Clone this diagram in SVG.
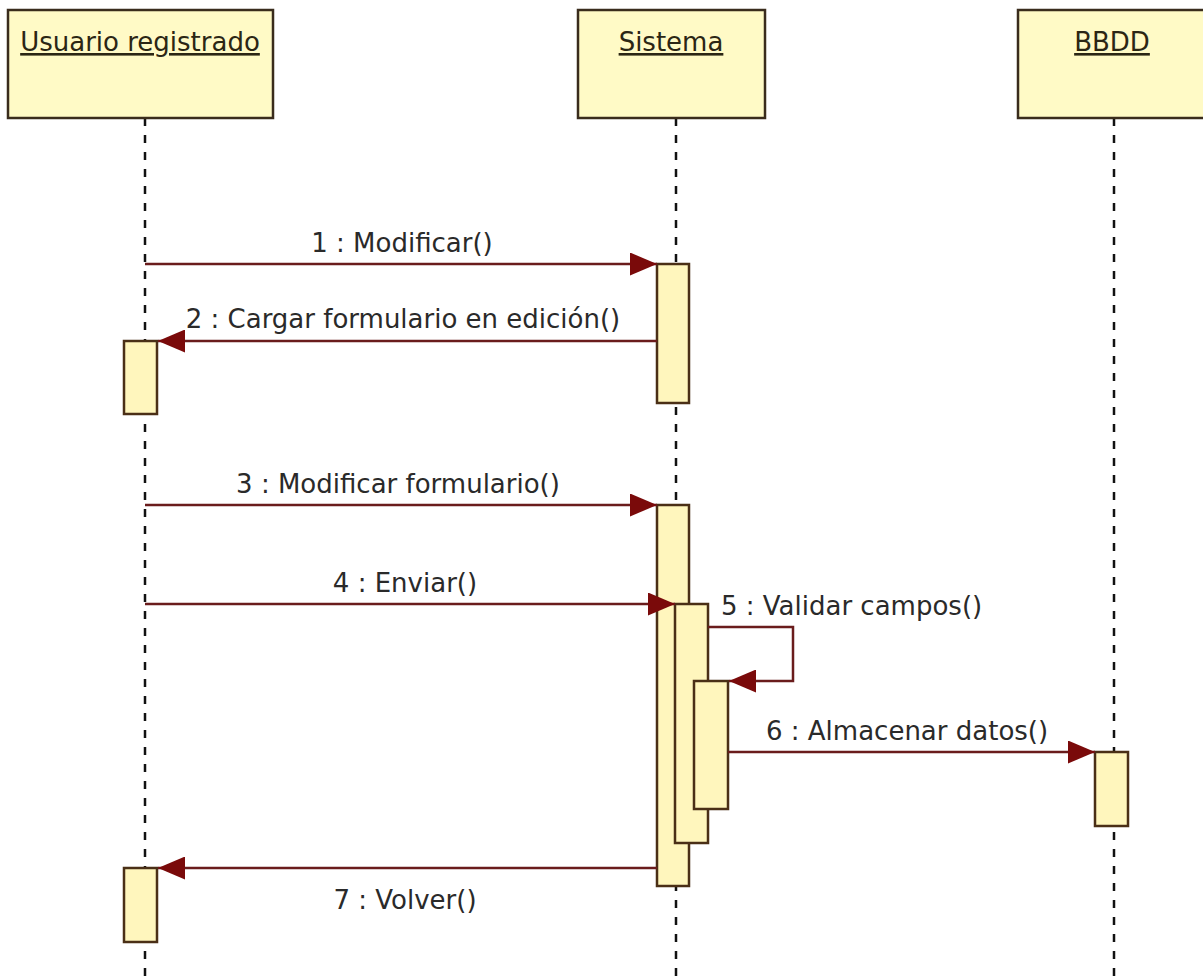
<svg xmlns="http://www.w3.org/2000/svg" width="1203" height="979" viewBox="0 0 1203 979">
<style>
.head{fill:#fffac6;stroke:#3a2c1c;stroke-width:2.5}
.act{fill:#fff6bd;stroke:#4a2f16;stroke-width:2.5}
.life{stroke:#111;stroke-width:2.5;stroke-dasharray:8 9;fill:none}
.msg{stroke:#6a1c1c;stroke-width:2.5;fill:none}
.t{font-family:"DejaVu Sans","Liberation Sans",sans-serif;font-size:26px;fill:#2a2a2a}
.ht{font-family:"DejaVu Sans","Liberation Sans",sans-serif;font-size:26px;fill:#2b2614;text-decoration:underline}
</style>
<defs>
<marker id="arr" viewBox="0 0 27 23" refX="27" refY="11.5" markerWidth="27" markerHeight="23" markerUnits="userSpaceOnUse" orient="auto">
<path d="M0,0 L27,11.5 L0,23 Z" fill="#7a0a0a"/>
</marker>
</defs>
<rect width="1203" height="979" fill="#ffffff"/>
<g id="lifelines">
<line class="life" x1="145" y1="118" x2="145" y2="979"/>
<line class="life" x1="676" y1="118" x2="676" y2="979"/>
<line class="life" x1="1114" y1="118" x2="1114" y2="979"/>
</g>
<g id="usuario">
<rect class="head" x="8" y="10" width="265" height="108"/>
<text class="ht" x="140" y="51" text-anchor="middle">Usuario registrado</text>
<rect class="act" x="124" y="341" width="33" height="73"/>
<rect class="act" x="124" y="868" width="33" height="74"/>
</g>
<g id="sistema">
<rect class="head" x="578" y="10" width="187" height="108"/>
<text class="ht" x="671" y="51" text-anchor="middle">Sistema</text>
<rect class="act" x="657" y="264" width="32" height="139"/>
<rect class="act" x="657" y="505" width="32" height="381"/>
<rect class="act" x="675" y="604" width="33" height="239"/>
<rect class="act" x="694" y="681" width="34" height="128"/>
</g>
<g id="bbdd">
<rect class="head" x="1018" y="10" width="196" height="108"/>
<text class="ht" x="1112" y="51" text-anchor="middle">BBDD</text>
<rect class="act" x="1095" y="752" width="33" height="74"/>
</g>
<g id="connectors">
<line class="msg" x1="145" y1="264" x2="657" y2="264" marker-end="url(#arr)"/>
<text class="t" x="402" y="252" text-anchor="middle">1 : Modificar()</text>
<line class="msg" x1="657" y1="341" x2="158" y2="341" marker-end="url(#arr)"/>
<text class="t" x="403" y="328" text-anchor="middle">2 : Cargar formulario en edición()</text>
<line class="msg" x1="145" y1="505" x2="657" y2="505" marker-end="url(#arr)"/>
<text class="t" x="398" y="493" text-anchor="middle">3 : Modificar formulario()</text>
<line class="msg" x1="145" y1="604" x2="675" y2="604" marker-end="url(#arr)"/>
<text class="t" x="405" y="592" text-anchor="middle">4 : Enviar()</text>
<polyline class="msg" points="708,627 793,627 793,681 729,681" marker-end="url(#arr)"/>
<text class="t" x="721" y="615">5 : Validar campos()</text>
<line class="msg" x1="728" y1="752" x2="1095" y2="752" marker-end="url(#arr)"/>
<text class="t" x="766" y="740">6 : Almacenar datos()</text>
<line class="msg" x1="657" y1="868" x2="158" y2="868" marker-end="url(#arr)"/>
<text class="t" x="405" y="909" text-anchor="middle">7 : Volver()</text>
</g>
</svg>
